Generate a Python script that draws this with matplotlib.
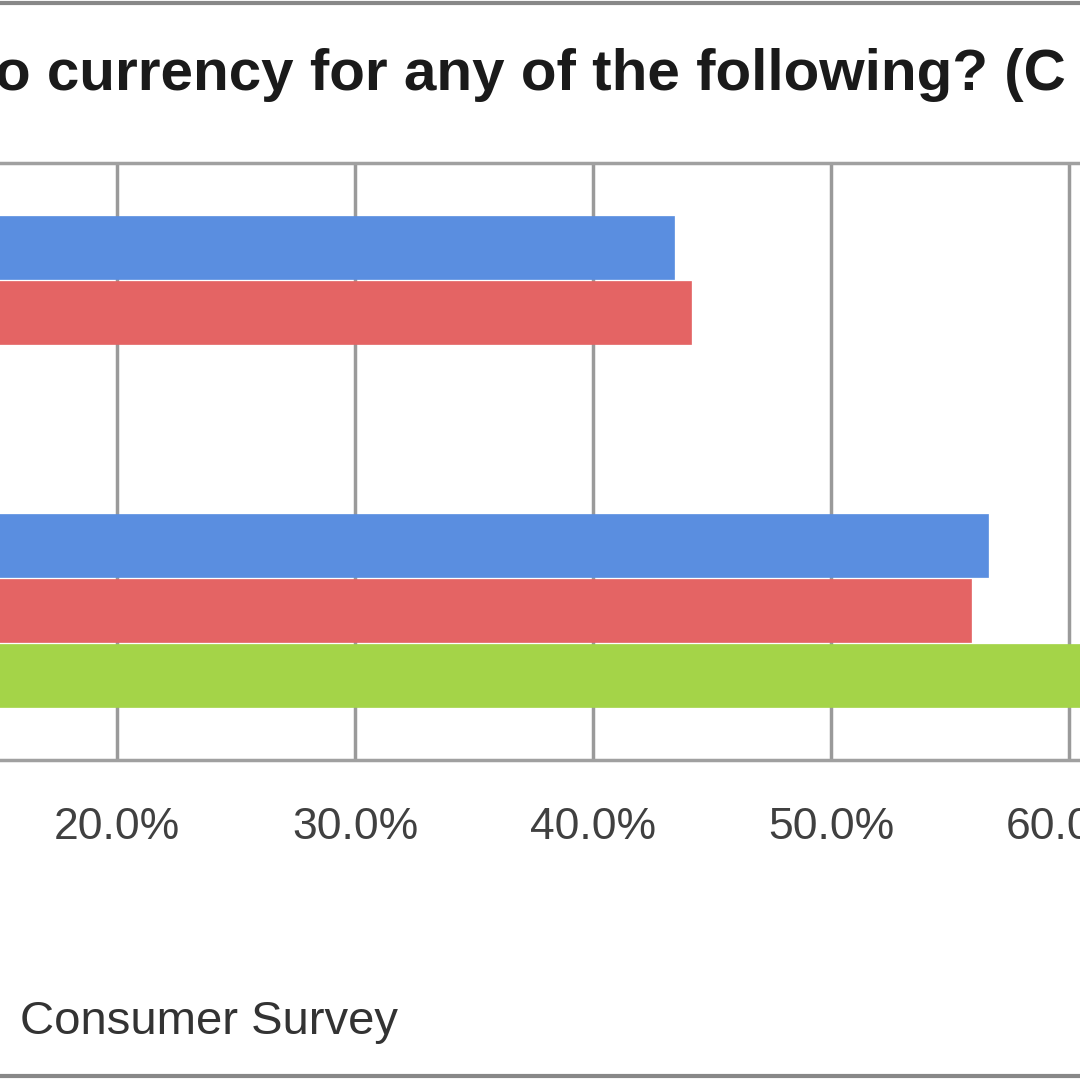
import matplotlib
matplotlib.use("Agg")
import matplotlib.pyplot as plt
import numpy as np

categories = ["Category A", "Category B"]
series_names = ["Series 1", "Series 2", "Series 3"]
blue = [0.434, 0.566]
red = [0.441, 0.559]
green = [0.0, 0.66]
ticks = [0.2, 0.3, 0.4, 0.5, 0.6]
tick_labels = ["20.0%", "30.0%", "40.0%", "50.0%", "60.0%"]

plt.rcParams['font.family'] = ['Liberation Sans', 'DejaVu Sans']
fig = plt.figure(figsize=(10.8, 10.8), dpi=100)
W = 1080
left_px, right_px = -359, 117 + 5 * 238
ax = fig.add_axes([left_px / W, 1 - 760 / W, (right_px - left_px) / W, (760 - 163) / W])

y = np.arange(len(categories)) + 0.5
h = 0.218
cols = ["#5a8ee0", "#e46464", "#a4d448"]
for i, (vals, c) in enumerate(zip([blue, red, green], cols)):
    ax.barh(y + (i - 1) * h, vals, height=h * 0.97, color=c, zorder=3,
            edgecolor=c, linewidth=0.5)
ax.set_ylim(2, 0)
ax.set_xlim(0, 0.7)
ax.set_xticks(ticks)
ax.set_xticklabels(tick_labels, fontsize=32, color="#404040")
ax.set_yticks([])
ax.tick_params(axis='x', length=0, pad=34)
ax.grid(axis='x', color="#9a9a9a", linewidth=2.5, zorder=0)
for s in ax.spines.values():
    s.set_color("#a0a0a0")
    s.set_linewidth(2.5)

fig.text(-0.005, 1 - 75 / W, "o currency for any of the following? (C", fontsize=42,
         fontweight='bold', color="#1a1a1a", va='center', ha='left')
fig.text(20 / W, 1 - 1022 / W, "Consumer Survey", fontsize=34, color="#333333",
         va='center', ha='left')
fig.add_artist(plt.Line2D([0, 1], [1 - 3 / W, 1 - 3 / W], color="#888888", lw=3))
fig.add_artist(plt.Line2D([0, 1], [1 - 1076 / W, 1 - 1076 / W], color="#888888", lw=3))
fig.savefig("out.png", dpi=100)
